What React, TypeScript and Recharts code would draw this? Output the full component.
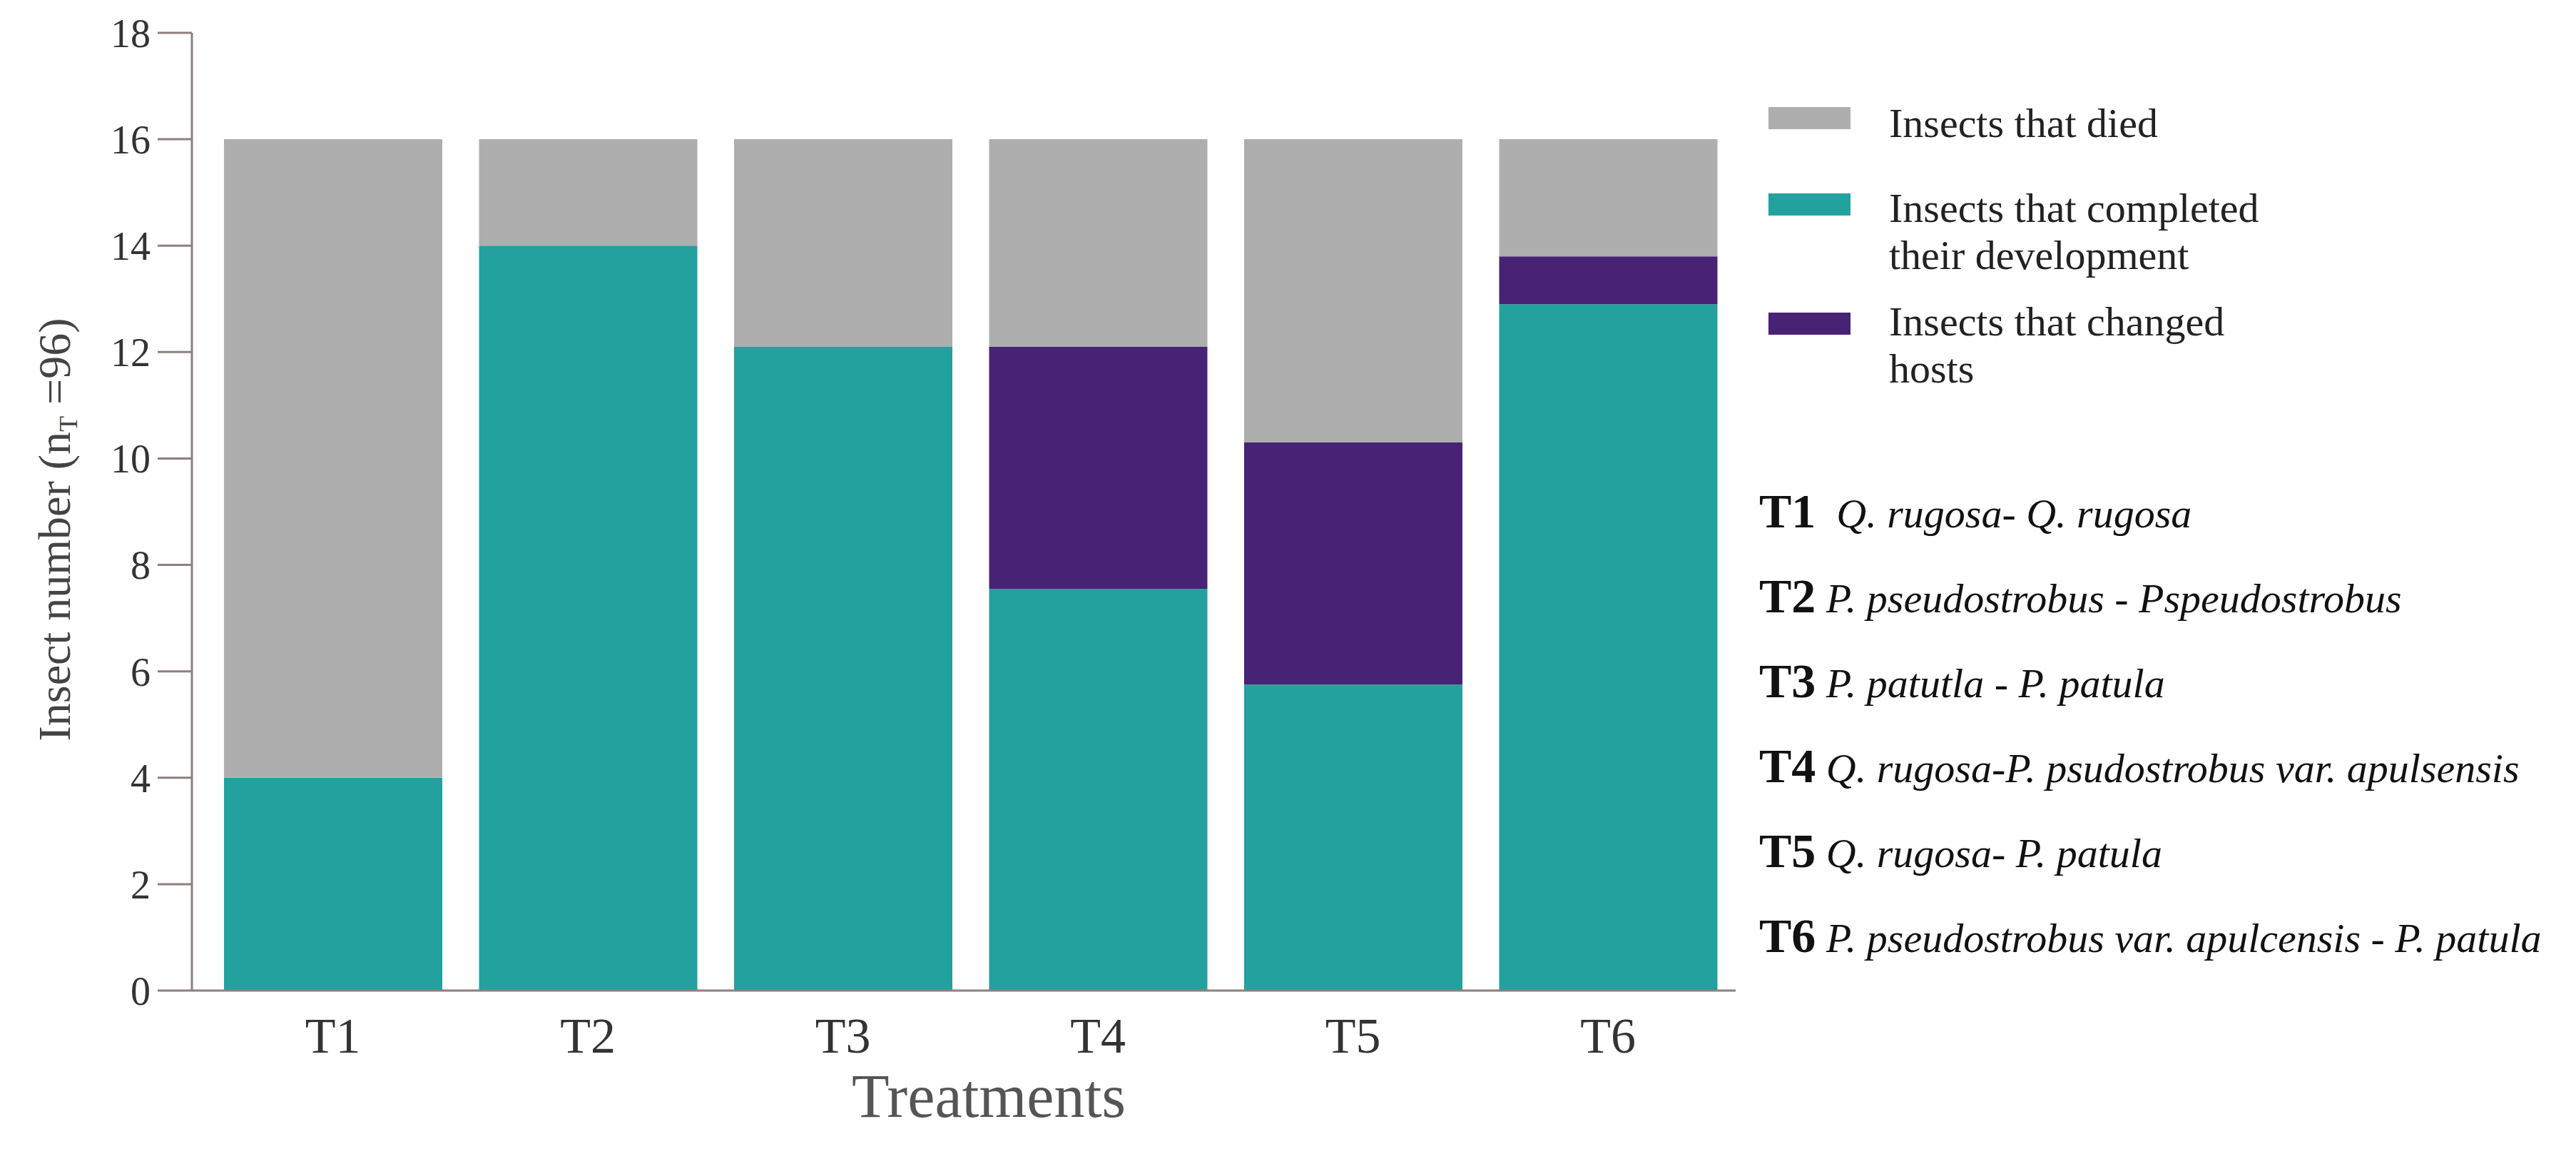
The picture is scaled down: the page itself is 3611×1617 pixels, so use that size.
import { Bar, BarChart, XAxis, YAxis } from "recharts";

const categories = ["T1", "T2", "T3", "T4", "T5", "T6"];
const completed = [4, 14, 12.1, 7.55, 5.75, 12.9];
const changedHosts = [0, 0, 0, 4.55, 4.55, 0.9];
const died = [12, 2, 3.9, 3.9, 5.7, 2.2];
const yTicks = [0, 2, 4, 6, 8, 10, 12, 14, 16, 18];

const treatmentCodes = ["T1", "T2", "T3", "T4", "T5", "T6"];
const treatmentNames = [
  "  Q. rugosa- Q. rugosa",
  " P. pseudostrobus - Pspeudostrobus",
  " P. patutla - P. patula",
  " Q. rugosa-P. psudostrobus var. apulsensis",
  " Q. rugosa- P. patula",
  " P. pseudostrobus var. apulcensis - P. patula",
];

const series = [
  { key: "died", lines: ["Insects that died"], color: "#aeaeae" },
  { key: "completed", lines: ["Insects that completed", "their development"], color: "#22a19f" },
  { key: "changed", lines: ["Insects that changed", "hosts"], color: "#482275" },
];

const data = categories.map((name, i) => ({
  name,
  completed: completed[i],
  changed: changedHosts[i],
  died: died[i],
}));

const serif = "'Liberation Serif', 'DejaVu Serif', serif";
const axisColor = "#8c807d";

function YLabel(props: any) {
  const vb = props.viewBox || { x: 0, y: 46, width: 269, height: 1342 };
  const cx = vb.x + 98;
  const cy = vb.y + vb.height / 2 + 25;
  return (
    <text
      x={cx}
      y={cy}
      transform={`rotate(-90, ${cx}, ${cy})`}
      textAnchor="middle"
      fontFamily={serif}
      fontSize={64}
      fill="#444"
    >
      Insect number (n
      <tspan fontSize={36} dy={10}>T</tspan>
      <tspan dy={-10}> =96)</tspan>
    </text>
  );
}

function TreatmentsLabel(props: any) {
  const vb = props.viewBox || { x: 269, y: 1388, width: 2164, height: 229 };
  return (
    <text
      x={vb.x + vb.width / 2 + 35}
      y={vb.y + 177}
      textAnchor="middle"
      fontFamily={serif}
      fontSize={86}
      fill="#555"
    >
      Treatments
    </text>
  );
}

function SideLegend() {
  const squareTops = [150, 271, 438];
  const firstBaselines = [192, 311, 470];
  const treatmentBaselines = [739, 858, 977, 1096, 1215, 1334];
  return (
    <svg
      width={1171}
      height={1617}
      style={{ position: "absolute", left: 2440, top: 0 }}
    >
      {series.map((s, i) => (
        <g key={s.key}>
          <rect x={39} y={squareTops[i]} width={115} height={31} fill={s.color} />
          {s.lines.map((line, j) => (
            <text
              key={line}
              x={208}
              y={firstBaselines[i] + j * 66}
              fontFamily={serif}
              fontSize={58}
              fill="#222"
            >
              {line}
            </text>
          ))}
        </g>
      ))}
      {treatmentCodes.map((code, i) => (
        <text
          key={code}
          x={26}
          y={treatmentBaselines[i]}
          fontFamily={serif}
          fill="#111"
          style={{ whiteSpace: "pre" }}
        >
          <tspan fontSize={68} fontWeight="bold">
            {code}
          </tspan>
          <tspan fontSize={58} fontStyle="italic">
            {treatmentNames[i]}
          </tspan>
        </text>
      ))}
    </svg>
  );
}

export default function App() {
  return (
    <div
      style={{
        position: "absolute",
        left: 0,
        top: 0,
        width: 3611,
        height: 1617,
        background: "#fff",
      }}
    >
      <BarChart
        width={2440}
        height={1617}
        data={data}
        margin={{ top: 46, right: 7, bottom: 0, left: 0 }}
        barCategoryGap={26}
      >
        <XAxis
          dataKey="name"
          height={229}
          padding={{ left: 19, right: 0 }}
          axisLine={{ stroke: axisColor, strokeWidth: 3 }}
          tickLine={false}
          tickSize={0}
          tickMargin={37}
          tick={{ fontSize: 70, fill: "#333", fontFamily: serif }}
          label={<TreatmentsLabel />}
        />
        <YAxis
          width={269}
          domain={[0, 18]}
          ticks={yTicks}
          interval={0}
          allowDataOverflow
          axisLine={{ stroke: axisColor, strokeWidth: 3 }}
          tickLine={{ stroke: axisColor, strokeWidth: 3 }}
          tickSize={48}
          tickMargin={10}
          tick={{ fontSize: 56, fill: "#333", fontFamily: serif }}
          label={<YLabel />}
        />
        <Bar dataKey="completed" stackId="a" fill="#22a19f" isAnimationActive={false} />
        <Bar dataKey="changed" stackId="a" fill="#482275" isAnimationActive={false} />
        <Bar dataKey="died" stackId="a" fill="#aeaeae" isAnimationActive={false} />
      </BarChart>
      <SideLegend />
    </div>
  );
}
